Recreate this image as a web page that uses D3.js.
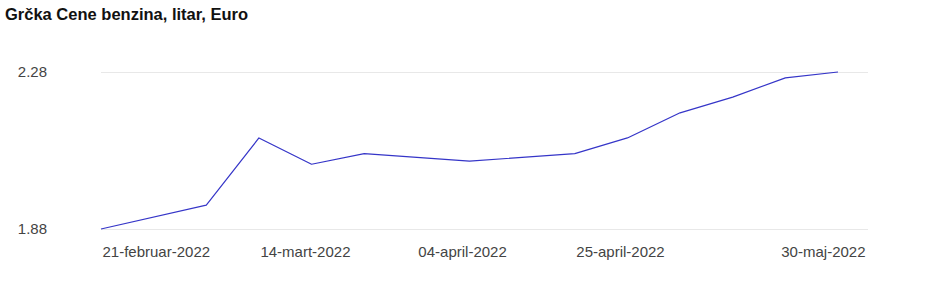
<!DOCTYPE html>
<html>
<head>
<meta charset="utf-8">
<script src="https://cdn.jsdelivr.net/npm/d3@7"></script>
<style>
  body { margin: 0; background: #fff; }
  svg { font-family: "Liberation Sans", Arial, sans-serif; }
  .title { font-size: 16.5px; font-weight: bold; fill: #111; }
  .tick text { font-size: 15px; fill: #444; }
  .grid line { stroke: #e8e8e8; }
</style>
</head>
<body>
<svg></svg>
<script>
// weekly prices (only weeks with data)
const dates = ["2022-02-21", "2022-03-07", "2022-03-14", "2022-03-21", "2022-03-28",
  "2022-04-11", "2022-04-25", "2022-05-02", "2022-05-09", "2022-05-16", "2022-05-23", "2022-05-30"];
const prices = [1.88, 1.941, 2.112, 2.045, 2.072, 2.053, 2.072, 2.112, 2.176, 2.216, 2.265, 2.28];
const yTicks = [1.88, 2.28];
const xTicks = ["2022-02-21", "2022-03-14", "2022-04-04", "2022-04-25", "2022-05-30"];
const monthNames = ["januar", "februar", "mart", "april", "maj", "jun", "jul", "avgust", "septembar", "oktobar", "novembar", "decembar"];

const parse = d3.timeParse("%Y-%m-%d");
const data = dates.map((d, i) => ({ date: parse(d), value: prices[i] }));

const svg = d3.select("svg").attr("width", 940).attr("height", 284);

svg.append("text")
  .attr("class", "title")
  .attr("x", 5)
  .attr("y", 20)
  .text("Grčka Cene benzina, litar, Euro");

const x = d3.scaleTime()
  .domain(d3.extent(data, d => d.date))
  .range([101, 838]);

const y = d3.scaleLinear()
  .domain([1.88, 2.28])
  .range([229, 72]);

// horizontal gridlines
svg.append("g")
  .attr("class", "grid")
  .selectAll("line")
  .data(yTicks)
  .enter()
  .append("line")
  .attr("x1", 101)
  .attr("x2", 868)
  .attr("y1", d => y(d) + 0.5)
  .attr("y2", d => y(d) + 0.5);

// y axis labels
const yAxis = svg.append("g")
  .attr("transform", "translate(47,0)")
  .call(d3.axisLeft(y).tickValues(yTicks).tickSize(0).tickPadding(0).tickFormat(d3.format(".2f")));
yAxis.select(".domain").remove();

// x axis labels
const fmt = d => `${d3.timeFormat("%d")(d)}-${monthNames[d.getMonth()]}-${d.getFullYear()}`;
const xAxis = svg.append("g")
  .attr("transform", "translate(0,257)")
  .call(d3.axisBottom(x).tickValues(xTicks.map(parse)).tickSize(0).tickPadding(0).tickFormat(fmt));
xAxis.select(".domain").remove();
xAxis.selectAll(".tick text")
  .attr("y", 0)
  .attr("dy", 0)
  .attr("text-anchor", (d, i, n) => i === n.length - 1 ? "end" : "start")
  .attr("x", (d, i, n) => i === n.length - 1 ? 865 - x(d) : 1);

const line = d3.line()
  .x(d => x(d.date))
  .y(d => y(d.value));

svg.append("path")
  .datum(data)
  .attr("d", line)
  .attr("fill", "none")
  .attr("stroke", "#3535c8")
  .attr("stroke-width", 1.2)
  .attr("stroke-linejoin", "round");
</script>
</body>
</html>
